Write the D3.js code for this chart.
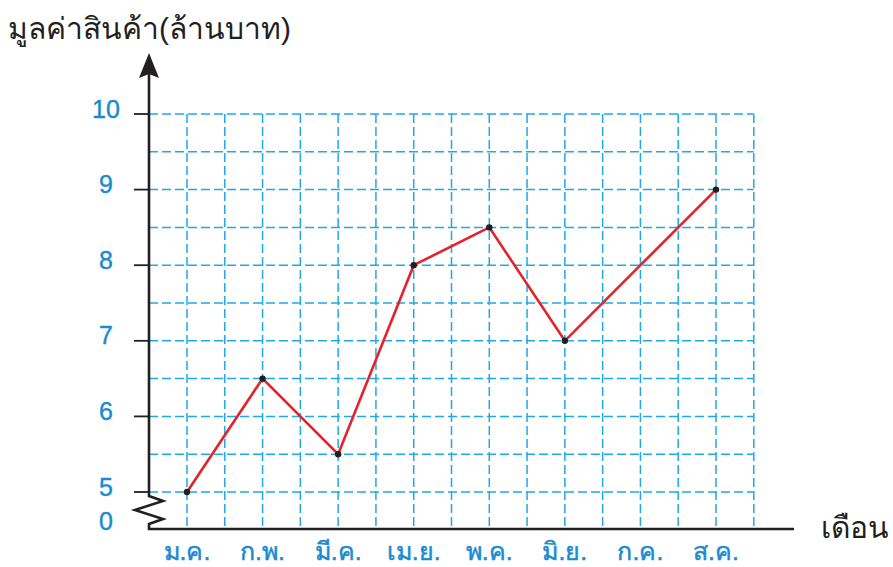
<!DOCTYPE html>
<html>
<head>
<meta charset="utf-8">
<script src="https://cdn.jsdelivr.net/npm/d3@7"></script>
<style>
  body { margin: 0; background: #fff; }
  svg { display: block; }
  text { font-family: "Liberation Sans", "Noto Sans", sans-serif; }
</style>
</head>
<body>
<script>
// data
const months = ["ม.ค.", "ก.พ.", "มี.ค.", "เม.ย.", "พ.ค.", "มิ.ย.", "ก.ค.", "ส.ค."];
const values = [5, 6.5, 5.5, 8, 8.5, 7, 8, 9];
const marked = [true, true, true, true, true, true, false, true];
const yTicks = [5, 6, 7, 8, 9, 10];
const yGrid = [5, 5.5, 6, 6.5, 7, 7.5, 8, 8.5, 9, 9.5, 10];
const yTitle = "มูลค่าสินค้า(ล้านบาท)";
const xTitle = "เดือน";

const width = 893, height = 567;
const blue = "#1a8bd0", gridBlue = "#1ea9e8", ink = "#231f20", red = "#e5222a";

const svg = d3.select("body").append("svg")
  .attr("width", width)
  .attr("height", height);

const x = d3.scalePoint().domain(months).range([187, 716]);
const y = d3.scaleLinear().domain([5, 10]).range([492, 114]);
const axisX = 149, axisY = 529;
const half = x.step() / 2;

// grid: one line on every month and one in between
const gx = [];
months.forEach(m => { gx.push(x(m)); gx.push(x(m) + half); });

const grid = svg.append("g")
  .attr("stroke", gridBlue)
  .attr("stroke-width", 1.5)
  .attr("stroke-dasharray", "9,4");
grid.selectAll("line.v").data(gx).join("line")
  .attr("class", "v")
  .attr("x1", d => d).attr("x2", d => d)
  .attr("y1", y(10)).attr("y2", axisY);
grid.selectAll("line.h").data(yGrid).join("line")
  .attr("class", "h")
  .attr("x1", axisX).attr("x2", d3.max(gx))
  .attr("y1", d => y(d)).attr("y2", d => y(d));

// axes, with the break between 0 and 5
const axes = svg.append("g")
  .attr("stroke", ink)
  .attr("stroke-width", 2.6)
  .attr("fill", "none");
axes.append("path")
  .attr("d", `M${axisX},70 V${y(5) + 4} l14,5 l-28,9 l28,9 l-14,5 V${axisY} H794`);
svg.append("path")
  .attr("fill", ink)
  .attr("d", `M${axisX},53 L${axisX + 10},78 L${axisX},74 L${axisX - 10},78 Z`);
axes.selectAll("line.tick").data(yTicks).join("line")
  .attr("class", "tick")
  .attr("stroke-width", 1.8)
  .attr("x1", axisX - 15).attr("x2", axisX)
  .attr("y1", d => y(d)).attr("y2", d => y(d));

// y labels
const num = svg.append("g")
  .attr("fill", blue)
  .attr("stroke", blue)
  .attr("stroke-width", 0.4)
  .attr("font-size", 25)
  .attr("font-family", "DejaVu Sans")
  .attr("text-anchor", "middle")
  .attr("dominant-baseline", "middle");
num.selectAll("text").data(yTicks).join("text")
  .attr("x", 106)
  .attr("y", d => y(d) - 3)
  .text(d => d);
num.append("text")
  .attr("x", 106).attr("y", 523)
  .text("0");

// month labels
svg.selectAll("text.xlab").data(months).join("text")
  .attr("class", "xlab")
  .attr("x", d => x(d))
  .attr("y", 553)
  .attr("text-anchor", "middle")
  .attr("dominant-baseline", "middle")
  .attr("fill", blue)
  .attr("stroke", blue)
  .attr("stroke-width", 0.5)
  .attr("font-size", 25)
  .text(d => d);

// titles
svg.append("text")
  .attr("x", 8).attr("y", 39)
  .attr("fill", ink)
  .attr("font-size", 30)
  .text(yTitle);
svg.append("text")
  .attr("x", 821).attr("y", 538)
  .attr("fill", ink)
  .attr("font-size", 30)
  .text(xTitle);

// the line
const pts = months.map((m, i) => [x(m), y(values[i])]);
svg.append("path")
  .datum(pts)
  .attr("fill", "none")
  .attr("stroke", red)
  .attr("stroke-width", 2.6)
  .attr("d", d3.line());
svg.selectAll("circle").data(pts.filter((p, i) => marked[i])).join("circle")
  .attr("cx", d => d[0])
  .attr("cy", d => d[1])
  .attr("r", 3.2)
  .attr("fill", ink);
</script>
</body>
</html>
